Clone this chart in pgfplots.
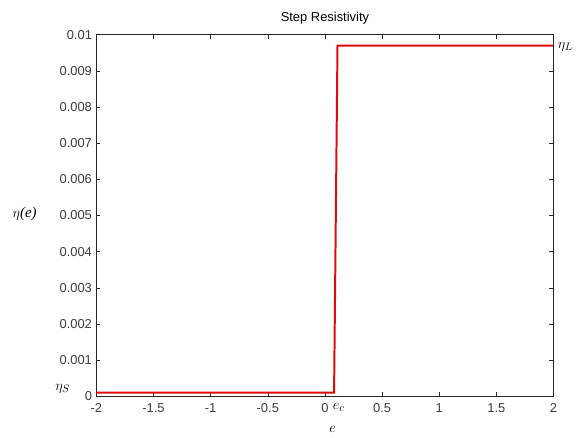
\documentclass[border=0pt]{standalone}
\usepackage{fontspec}
\setmainfont{Liberation Sans}
\newfontfamily\seriffont{Liberation Serif}
\usepackage{pgfplots}
\pgfplotsset{compat=1.18}
\definecolor{axgray}{RGB}{38,38,38}
\definecolor{tickgray}{RGB}{60,60,60}
\definecolor{mred}{RGB}{225,10,10}
\begin{document}
\begin{tikzpicture}
\begin{axis}[
  scale only axis,
  width=460bp, height=364bp,
  xmin=-2, xmax=2, ymin=0, ymax=0.01,
  xtick={-2,-1.5,...,2},
  ytick={0,0.001,...,0.0101},
  scaled y ticks=false,
  yticklabel style={/pgf/number format/fixed,/pgf/number format/precision=3, xshift=-1bp},
  xticklabel style={/pgf/number format/fixed, yshift=-4bp},
  /pgf/number format/assume math mode=true,
  tick label style={font=\fontsize{13bp}{15bp}\selectfont, text=tickgray},
  tick align=inside,
  major tick length=4bp,
  axis line style={axgray, line width=0.6pt},
  tick style={axgray, line width=0.6pt},
  clip=false,
]
\addplot[mred, line width=2bp] coordinates {(-2,0.0001) (0.08,0.0001) (0.11,0.0097) (2,0.0097)};
\path (rel axis cs:-0.211,-0.115) rectangle (rel axis cs:1.041,1.096);
\node at (rel axis cs:0.5,1.045) {\fontsize{13bp}{15bp}\selectfont Step Resistivity};
\node at (rel axis cs:-0.157,0.505) {\fontsize{15bp}{17bp}\selectfont$\eta$\seriffont\textit{(e)}};
\node at (rel axis cs:-0.074,0.022) {\fontsize{15bp}{17bp}\selectfont$\eta_S$};
\node at (rel axis cs:1.026,0.967) {\fontsize{15bp}{17bp}\selectfont$\eta_L$};
\node at (rel axis cs:0.53,-0.03) {\fontsize{15bp}{17bp}\selectfont$e_c$};
\node at (rel axis cs:0.517,-0.092) {\fontsize{15bp}{17bp}\selectfont$e$};
\end{axis}
\end{tikzpicture}
\end{document}
